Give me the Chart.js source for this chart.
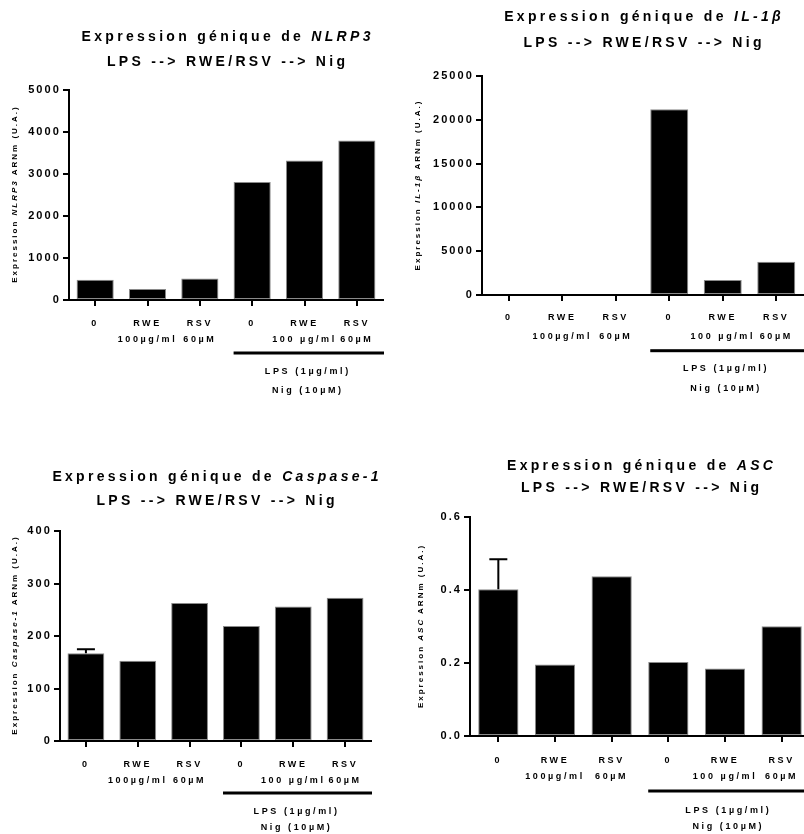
<!DOCTYPE html>
<html><head><meta charset="utf-8">
<script src="https://cdn.jsdelivr.net/npm/chart.js@4.4.1/dist/chart.umd.min.js"></script>
<style>
html,body{margin:0;padding:0;overflow:hidden;background:#fff;width:804px;height:834px;}
body{position:relative;font-family:"Liberation Sans",Arial,sans-serif;color:#000;}
canvas{position:absolute;}
.t{position:absolute;width:440px;text-align:center;font-weight:bold;font-size:14px;letter-spacing:3.3px;line-height:16px;white-space:nowrap;padding-left:3.3px;box-sizing:border-box;}
.yl{position:absolute;width:280px;height:10px;line-height:10px;text-align:center;font-weight:bold;font-size:8px;letter-spacing:2px;white-space:nowrap;transform:rotate(-90deg);padding-left:2px;box-sizing:border-box;}
</style></head><body>
<script>
// ---- data ----
const categories = [["0"], ["RWE", "100µg/ml"], ["RSV", "60µM"], ["0"], ["RWE", "100 µg/ml"], ["RSV", "60µM"]];
const nlrp3Values = [480, 260, 510, 2810, 3320, 3800];
const il1bValues = [0, 0, 0, 21200, 1710, 3800];
const casp1Values = [167, 153, 263, 219, 256, 273];
const casp1Errors = [8, 0, 0, 0, 0, 0];
const ascValues = [0.402, 0.196, 0.438, 0.203, 0.185, 0.301];
const ascErrors = [0.082, 0, 0, 0, 0, 0];
const yAxisMax = [5000, 25000, 400, 0.6];
const yAxisStep = [1000, 5000, 100, 0.2];
const yAxisDecimals = [0, 0, 0, 1];
const geneNames = ["NLRP3", "IL-1β", "Caspase-1", "ASC"];
const titlePrefix = "Expression génique de ";
const subtitle = "LPS --> RWE/RSV --> Nig";
const groupLabels = ["LPS (1µg/ml)", "Nig (10µM)"];

// ---- layout ----
const panels = [
  {left:0, top:0, w:402, h:417, area:{l:69,r:383,t:90,b:300}, values:nlrp3Values, errors:null, titleY:[36,61], yLabelX:15, lh:15.5, firstDy:24, lineDy:53, lpsDy:72, nigDy:91},
  {left:402, top:0, w:402, h:417, area:{l:80,r:401,t:76,b:295}, values:il1bValues, errors:null, titleY:[16,42], yLabelX:16, lh:18.7, firstDy:23, lineDy:55.7, lpsDy:74, nigDy:94},
  {left:0, top:417, w:402, h:417, area:{l:60,r:371,t:114,b:324}, values:casp1Values, errors:casp1Errors, titleY:[476,500], yLabelX:15, lh:16, firstDy:23.3, lineDy:52, lpsDy:70.3, nigDy:87},
  {left:402, top:417, w:412, h:417, area:{l:68,r:408,t:100,b:319}, values:ascValues, errors:ascErrors, titleY:[465,487], yLabelX:19, lh:16.7, firstDy:24.3, lineDy:55, lpsDy:74.3, nigDy:91}
];

const FONT = '"Liberation Sans", Arial, sans-serif';
const X_FONT = 9, X_SP = 2.6, Y_FONT = 11, Y_SP = 2.1;

const spacingPlugin = {
  id: 'spacing',
  beforeDraw(chart) { chart.ctx.letterSpacing = Y_SP + 'px'; },
  afterDatasetsDraw(chart) {
    const p = chart.options.plugins.spacing;
    const ctx = chart.ctx;
    if (p.errors) {
      const meta = chart.getDatasetMeta(0);
      const ys = chart.scales.y;
      ctx.save();
      ctx.strokeStyle = '#000';
      ctx.lineWidth = 2;
      p.errors.forEach((e, i) => {
        if (!e) return;
        const bar = meta.data[i];
        const v = p.values[i];
        const y0 = ys.getPixelForValue(v);
        const y1 = ys.getPixelForValue(v + e);
        ctx.beginPath();
        ctx.moveTo(bar.x, y0);
        ctx.lineTo(bar.x, y1);
        ctx.moveTo(bar.x - 9, y1);
        ctx.lineTo(bar.x + 9, y1);
        ctx.stroke();
      });
      ctx.restore();
    }
    ctx.letterSpacing = X_SP + 'px';
  },
  afterDraw(chart) {
    const p = chart.options.plugins.spacing;
    const ctx = chart.ctx;
    const a = chart.chartArea;
    const meta = chart.getDatasetMeta(0);
    const bar = meta.data[3];
    const xL = bar.x - bar.width / 2;
    const xR = a.right + 1;
    ctx.save();
    ctx.fillStyle = '#000';
    ctx.fillRect(xL, a.bottom + p.lineDy - 1.5, xR - xL, 3);
    ctx.letterSpacing = X_SP + 'px';
    ctx.font = 'bold ' + X_FONT + 'px ' + FONT;
    ctx.textAlign = 'center';
    ctx.textBaseline = 'middle';
    const cx = chart.scales.x.getPixelForValue(4) + 2 + X_SP / 2;
    ctx.fillText(groupLabels[0], cx, a.bottom + p.lpsDy);
    ctx.fillText(groupLabels[1], cx, a.bottom + p.nigDy);
    ctx.restore();
  }
};

panels.forEach((p, idx) => {
  const cv = document.createElement('canvas');
  cv.width = p.w; cv.height = p.h;
  cv.style.left = p.left + 'px'; cv.style.top = p.top + 'px';
  cv.style.width = p.w + 'px'; cv.style.height = p.h + 'px';
  document.body.appendChild(cv);

  const xPad = p.firstDy - 6 - p.lh / 2;
  const chart = new Chart(cv.getContext('2d'), {
    type: 'bar',
    data: {
      labels: categories,
      datasets: [{
        data: p.values,
        backgroundColor: '#000',
        borderColor: '#8a8a8a',
        borderWidth: 1,
        borderSkipped: false,
        barPercentage: 0.71,
        categoryPercentage: 1
      }]
    },
    options: {
      responsive: false,
      animation: false,
      devicePixelRatio: 1,
      layout: { padding: { left: 0, top: p.area.t, right: p.w - p.area.r, bottom: 0 } },
      plugins: {
        legend: { display: false },
        tooltip: { enabled: false },
        spacing: { errors: p.errors, values: p.values, lineDy: p.lineDy, lpsDy: p.lpsDy, nigDy: p.nigDy }
      },
      scales: {
        x: {
          type: 'category',
          offset: true,
          grid: { display: true, offset: false, drawOnChartArea: false, drawTicks: true, tickLength: 6, color: '#000', lineWidth: 2 },
          border: { display: true, color: '#000', width: 2, z: 1 },
          ticks: { z: 1, color: '#000', padding: xPad, maxRotation: 0, autoSkip: false,
                   font: { family: FONT, size: X_FONT, weight: 'bold', lineHeight: p.lh / X_FONT } },
          afterFit: (s) => { s.height = p.h - p.area.b; }
        },
        y: {
          min: 0, max: yAxisMax[idx],
          grid: { display: true, drawOnChartArea: false, drawTicks: true, tickLength: 6, color: '#000', lineWidth: 2 },
          border: { display: true, color: '#000', width: 2, z: 1 },
          ticks: { stepSize: yAxisStep[idx], color: '#000', padding: 2,
                   font: { family: FONT, size: Y_FONT, weight: 'bold' },
                   callback: (v) => Number(v).toFixed(yAxisDecimals[idx]) },
          afterFit: (s) => { s.width = p.area.l; }
        }
      }
    },
    plugins: [spacingPlugin]
  });

  const a = chart.chartArea;
  const cx = p.left + (a.left + a.right) / 2;
  const t1 = document.createElement('div');
  t1.className = 't';
  t1.style.left = (cx - 220) + 'px';
  t1.style.top = (p.titleY[0] - 8) + 'px';
  t1.innerHTML = titlePrefix + '<i>' + geneNames[idx] + '</i>';
  document.body.appendChild(t1);
  const t2 = document.createElement('div');
  t2.className = 't';
  t2.style.left = (cx - 220) + 'px';
  t2.style.top = (p.titleY[1] - 8) + 'px';
  t2.textContent = subtitle;
  document.body.appendChild(t2);

  const yl = document.createElement('div');
  yl.className = 'yl';
  const cy = p.top + (a.top + a.bottom) / 2;
  yl.style.left = (p.left + p.yLabelX - 140) + 'px';
  yl.style.top = (cy - 5) + 'px';
  yl.innerHTML = 'Expression <i>' + geneNames[idx] + '</i> ARNm (U.A.)';
  document.body.appendChild(yl);
});
</script>
</body></html>
